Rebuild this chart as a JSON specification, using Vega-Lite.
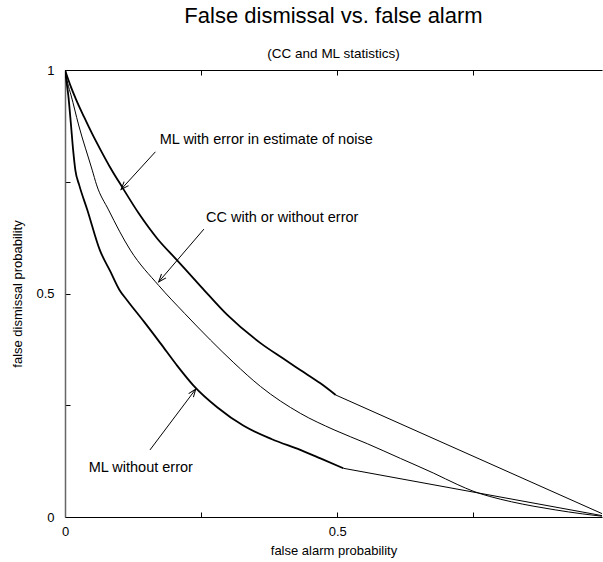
{
  "$schema": "https://vega.github.io/schema/vega-lite/v6.json",
  "autosize": {"type": "none"},
  "padding": {"left": 65, "top": 70, "right": 1, "bottom": 45},
  "width": 537,
  "height": 447,
  "background": "white",
  "title": {
    "text": "False dismissal vs. false alarm",
    "subtitle": "(CC and ML statistics)",
    "font": "Liberation Sans",
    "fontSize": 22,
    "fontWeight": "normal",
    "color": "black",
    "subtitleFont": "Liberation Sans",
    "subtitleFontSize": 13.5,
    "subtitleColor": "black",
    "subtitlePadding": 19,
    "offset": 3,
    "anchor": "middle"
  },
  "config": {
    "view": {"stroke": null},
    "axis": {
      "grid": false,
      "labelFont": "Liberation Sans",
      "titleFont": "Liberation Sans",
      "labelColor": "black",
      "titleColor": "black",
      "labelFontSize": 13,
      "titleFontSize": 13,
      "titleFontWeight": "normal",
      "tickColor": "black",
      "domainColor": "black",
      "tickSize": -5,
      "labelFlush": false,
      "labelOverlap": false
    }
  },
  "datasets": {
    "curves": [
      {"series": "ML with error", "part": "measured", "fa": 0, "fd": 1},
      {"series": "ML with error", "part": "measured", "fa": 0.01, "fd": 0.965},
      {"series": "ML with error", "part": "measured", "fa": 0.02, "fd": 0.935},
      {"series": "ML with error", "part": "measured", "fa": 0.035, "fd": 0.895},
      {"series": "ML with error", "part": "measured", "fa": 0.05, "fd": 0.857},
      {"series": "ML with error", "part": "measured", "fa": 0.065, "fd": 0.822},
      {"series": "ML with error", "part": "measured", "fa": 0.083, "fd": 0.782},
      {"series": "ML with error", "part": "measured", "fa": 0.105, "fd": 0.738},
      {"series": "ML with error", "part": "measured", "fa": 0.135, "fd": 0.68},
      {"series": "ML with error", "part": "measured", "fa": 0.17, "fd": 0.622},
      {"series": "ML with error", "part": "measured", "fa": 0.203, "fd": 0.578},
      {"series": "ML with error", "part": "measured", "fa": 0.25, "fd": 0.515},
      {"series": "ML with error", "part": "measured", "fa": 0.298, "fd": 0.452},
      {"series": "ML with error", "part": "measured", "fa": 0.359, "fd": 0.389},
      {"series": "ML with error", "part": "measured", "fa": 0.4, "fd": 0.355},
      {"series": "ML with error", "part": "measured", "fa": 0.432, "fd": 0.329},
      {"series": "ML with error", "part": "measured", "fa": 0.469, "fd": 0.299},
      {"series": "ML with error", "part": "measured", "fa": 0.497, "fd": 0.273},
      {"series": "ML with error", "part": "tail", "fa": 0.497, "fd": 0.273},
      {"series": "ML with error", "part": "tail", "fa": 1, "fd": 0},
      {"series": "CC", "part": "measured", "fa": 0, "fd": 1},
      {"series": "CC", "part": "measured", "fa": 0.005, "fd": 0.97},
      {"series": "CC", "part": "measured", "fa": 0.011, "fd": 0.944},
      {"series": "CC", "part": "measured", "fa": 0.025, "fd": 0.877},
      {"series": "CC", "part": "measured", "fa": 0.05, "fd": 0.776},
      {"series": "CC", "part": "measured", "fa": 0.058, "fd": 0.743},
      {"series": "CC", "part": "measured", "fa": 0.08, "fd": 0.687},
      {"series": "CC", "part": "measured", "fa": 0.12, "fd": 0.597},
      {"series": "CC", "part": "measured", "fa": 0.172, "fd": 0.518},
      {"series": "CC", "part": "measured", "fa": 0.22, "fd": 0.455},
      {"series": "CC", "part": "measured", "fa": 0.267, "fd": 0.396},
      {"series": "CC", "part": "measured", "fa": 0.31, "fd": 0.345},
      {"series": "CC", "part": "measured", "fa": 0.359, "fd": 0.292},
      {"series": "CC", "part": "measured", "fa": 0.432, "fd": 0.232},
      {"series": "CC", "part": "measured", "fa": 0.494, "fd": 0.195},
      {"series": "CC", "part": "measured", "fa": 0.555, "fd": 0.164},
      {"series": "CC", "part": "measured", "fa": 0.616, "fd": 0.131},
      {"series": "CC", "part": "measured", "fa": 0.677, "fd": 0.098},
      {"series": "CC", "part": "measured", "fa": 0.72, "fd": 0.073},
      {"series": "CC", "part": "measured", "fa": 0.751, "fd": 0.057},
      {"series": "CC", "part": "measured", "fa": 0.78, "fd": 0.046},
      {"series": "CC", "part": "measured", "fa": 0.82, "fd": 0.034},
      {"series": "CC", "part": "measured", "fa": 0.861, "fd": 0.024},
      {"series": "CC", "part": "measured", "fa": 0.9, "fd": 0.016},
      {"series": "CC", "part": "measured", "fa": 0.95, "fd": 0.007},
      {"series": "CC", "part": "measured", "fa": 1, "fd": 0},
      {"series": "ML without error", "part": "measured", "fa": 0, "fd": 1},
      {"series": "ML without error", "part": "measured", "fa": 0.003, "fd": 0.972},
      {"series": "ML without error", "part": "measured", "fa": 0.006, "fd": 0.944},
      {"series": "ML without error", "part": "measured", "fa": 0.011, "fd": 0.877},
      {"series": "ML without error", "part": "measured", "fa": 0.015, "fd": 0.82},
      {"series": "ML without error", "part": "measured", "fa": 0.019, "fd": 0.776},
      {"series": "ML without error", "part": "measured", "fa": 0.026, "fd": 0.743},
      {"series": "ML without error", "part": "measured", "fa": 0.041, "fd": 0.687},
      {"series": "ML without error", "part": "measured", "fa": 0.064, "fd": 0.597},
      {"series": "ML without error", "part": "measured", "fa": 0.083, "fd": 0.55},
      {"series": "ML without error", "part": "measured", "fa": 0.1, "fd": 0.508},
      {"series": "ML without error", "part": "measured", "fa": 0.114, "fd": 0.485},
      {"series": "ML without error", "part": "measured", "fa": 0.145, "fd": 0.437},
      {"series": "ML without error", "part": "measured", "fa": 0.175, "fd": 0.389},
      {"series": "ML without error", "part": "measured", "fa": 0.205, "fd": 0.34},
      {"series": "ML without error", "part": "measured", "fa": 0.236, "fd": 0.294},
      {"series": "ML without error", "part": "measured", "fa": 0.28, "fd": 0.245},
      {"series": "ML without error", "part": "measured", "fa": 0.328, "fd": 0.204},
      {"series": "ML without error", "part": "measured", "fa": 0.38, "fd": 0.174},
      {"series": "ML without error", "part": "measured", "fa": 0.432, "fd": 0.15},
      {"series": "ML without error", "part": "measured", "fa": 0.469, "fd": 0.131},
      {"series": "ML without error", "part": "measured", "fa": 0.511, "fd": 0.109},
      {"series": "ML without error", "part": "tail", "fa": 0.511, "fd": 0.109},
      {"series": "ML without error", "part": "tail", "fa": 1, "fd": 0}
    ],
    "arrows": [
      {"name": "a1", "fa": 0.166, "fd": 0.817, "fa2": 0.103, "fd2": 0.733},
      {"name": "a2", "fa": 0.255, "fd": 0.644, "fa2": 0.172, "fd2": 0.526},
      {"name": "a3", "fa": 0.156, "fd": 0.15, "fa2": 0.24, "fd2": 0.286}
    ],
    "notes": [
      {"label": "ML with error in estimate of noise", "fa": 0.174, "fd": 0.843},
      {"label": "CC with or without error", "fa": 0.259, "fd": 0.668},
      {"label": "ML without error", "fa": 0.0435, "fd": 0.109}
    ]
  },
  "resolve": {"axis": {"x": "independent", "y": "independent"}},
  "layer": [
    {
      "data": {"name": "curves"},
      "transform": [{"filter": "datum.series != 'CC' && datum.part == 'measured'"}],
      "mark": {"type": "line", "color": "black", "strokeWidth": 1.8, "clip": true, "interpolate": "monotone"},
      "encoding": {
        "x": {
          "field": "fa", "type": "quantitative",
          "scale": {"domain": [0, 0.986], "nice": false, "zero": false},
          "axis": {
            "orient": "bottom",
            "values": [0, 0.25, 0.5, 0.75],
            "labelExpr": "datum.value == 0 ? '0' : datum.value == 0.5 ? '0.5' : ''",
            "title": "false alarm probability",
            "labelPadding": 13,
            "titlePadding": 6
          }
        },
        "y": {
          "field": "fd", "type": "quantitative",
          "scale": {"domain": [0, 1], "nice": false},
          "axis": {
            "orient": "left",
            "values": [0, 0.25, 0.5, 0.75, 1],
            "labelExpr": "datum.value == 0 ? '0' : datum.value == 0.5 ? '0.5' : datum.value == 1 ? '1' : ''",
            "title": "false dismissal probability",
            "labelPadding": 16,
            "titlePadding": 11,
            "domainColor": "#666666",
            "domainWidth": 1.5
          }
        },
        "detail": {"field": "series"}
      }
    },
    {
      "data": {"name": "curves"},
      "transform": [{"filter": "datum.series == 'CC' || datum.part == 'tail'"}],
      "mark": {"type": "line", "color": "black", "strokeWidth": 1, "clip": true, "interpolate": "monotone"},
      "encoding": {
        "x": {
          "field": "fa", "type": "quantitative",
          "axis": {"orient": "top", "labels": false, "title": null, "values": [0, 0.25, 0.5, 0.75]}
        },
        "y": {"field": "fd", "type": "quantitative", "axis": null},
        "detail": [{"field": "series"}, {"field": "part"}]
      }
    },
    {
      "data": {"name": "arrows"},
      "mark": {"type": "rule", "color": "black", "strokeWidth": 1},
      "encoding": {
        "x": {"field": "fa", "type": "quantitative", "axis": null},
        "y": {"field": "fd", "type": "quantitative", "axis": null},
        "x2": {"field": "fa2"},
        "y2": {"field": "fd2"}
      }
    },
    {
      "data": {"name": "arrows"},
      "transform": [{"filter": "datum.name == 'a1'"}],
      "mark": {"type": "point", "shape": "M-0.42,1.1L0,0L0.42,1.1", "size": 200, "filled": false, "stroke": "black", "strokeWidth": 1, "opacity": 1, "angle": 222.4},
      "encoding": {
        "x": {"field": "fa2", "type": "quantitative", "axis": null},
        "y": {"field": "fd2", "type": "quantitative", "axis": null}
      }
    },
    {
      "data": {"name": "arrows"},
      "transform": [{"filter": "datum.name == 'a2'"}],
      "mark": {"type": "point", "shape": "M-0.42,1.1L0,0L0.42,1.1", "size": 200, "filled": false, "stroke": "black", "strokeWidth": 1, "opacity": 1, "angle": 220.6},
      "encoding": {
        "x": {"field": "fa2", "type": "quantitative", "axis": null},
        "y": {"field": "fd2", "type": "quantitative", "axis": null}
      }
    },
    {
      "data": {"name": "arrows"},
      "transform": [{"filter": "datum.name == 'a3'"}],
      "mark": {"type": "point", "shape": "M-0.42,1.1L0,0L0.42,1.1", "size": 200, "filled": false, "stroke": "black", "strokeWidth": 1, "opacity": 1, "angle": 36.9},
      "encoding": {
        "x": {"field": "fa2", "type": "quantitative", "axis": null},
        "y": {"field": "fd2", "type": "quantitative", "axis": null}
      }
    },
    {
      "data": {"name": "notes"},
      "mark": {"type": "text", "align": "left", "baseline": "middle", "font": "Liberation Sans", "fontSize": 14.5, "color": "black"},
      "encoding": {
        "x": {"field": "fa", "type": "quantitative", "axis": null},
        "y": {"field": "fd", "type": "quantitative", "axis": null},
        "text": {"field": "label"}
      }
    }
  ]
}
